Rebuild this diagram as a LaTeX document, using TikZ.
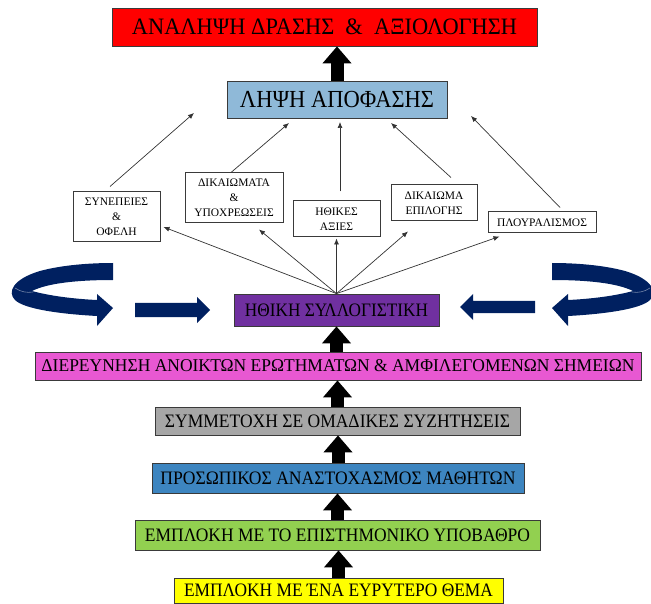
\documentclass[tikz,border=0pt]{standalone}
\usepackage{fontspec}
\usepackage{graphicx}
\setmainfont{Liberation Serif}
\usetikzlibrary{arrows.meta,calc}

% squeeze a line of text horizontally to a given width
\newcommand\fitw[2]{\resizebox{#1}{\height}{#2}}

\definecolor{actred}{HTML}{FF0000}
\definecolor{decblue}{HTML}{8FB9D8}
\definecolor{ethpurple}{HTML}{7030A0}
\definecolor{qpink}{HTML}{E858D2}
\definecolor{discgrey}{HTML}{A6A6A6}
\definecolor{reflblue}{HTML}{3D85C0}
\definecolor{scigreen}{HTML}{92D050}
\definecolor{themeyellow}{HTML}{FFFF00}
\definecolor{navy}{HTML}{002060}
\definecolor{edgegrey}{HTML}{3A3A3A}

\tikzset{
  box/.style={draw=edgegrey, line width=0.8pt, inner sep=0pt, text=black},
  smallbox/.style={draw=edgegrey, line width=1pt, fill=white, inner sep=0pt,
    align=center, font=\fontsize{11.5}{15}\selectfont},
  bigarrow/.style={line width=13pt, black, -{Triangle[length=17pt,width=28pt]}},
  thinarrow/.style={draw=black!80, line width=0.7pt, -{Latex[length=6pt,width=5pt]}},
  bandfill/.style={fill=navy},
}

% looping ribbon that turns back into an arrow
\newcommand\loopband{%
  \fill[bandfill] (113,263) -- (113,280)
    .. controls (78,280) and (48,283) .. (32,291)
    .. controls (50,296) and (75,299) .. (97,300)
    -- (97,294) -- (113,308) -- (97,326) -- (97,316)
    .. controls (60,314) and (24,309) .. (15,300)
    .. controls (7,292) and (13,279) .. (40,271)
    .. controls (62,265) and (90,263) .. (113,263) -- cycle;
  \draw[navy!55!white, line width=0.6pt] (15,288) .. controls (21,292) and (27,293) .. (33,292);
}

\begin{document}
\begin{tikzpicture}[x=1pt, y=-1pt]
\useasboundingbox (0,0) rectangle (651,604);

% ---- top of the scheme
\node[box, fill=actred, minimum width=425pt, minimum height=38pt] (act) at (324.5,27)
  {\fontsize{23.5}{26}\selectfont\fitw{385pt}{ΑΝΑΛΗΨΗ ΔΡΑΣΗΣ\ \ \&\ \ ΑΞΙΟΛΟΓΗΣΗ}};
\node[box, fill=decblue, minimum width=220pt, minimum height=37pt] (dec) at (337,99.5)
  {\fontsize{24.5}{26}\selectfont\fitw{194pt}{ΛΗΨΗ ΑΠΟΦΑΣΗΣ}};

% ---- criteria
\node[smallbox, minimum width=87pt, minimum height=50pt] (syn) at (116.5,217) {ΣΥΝΕΠΕΙΕΣ\\\&\\ΟΦΕΛΗ};
\node[smallbox, minimum width=98pt, minimum height=50pt] (dik) at (234,198) {ΔΙΚΑΙΩΜΑΤΑ\\\&\\ΥΠΟΧΡΕΩΣΕΙΣ};
\node[smallbox, minimum width=87pt, minimum height=36pt] (ith) at (336.5,219) {ΗΘΙΚΕΣ\\ΑΞΙΕΣ};
\node[smallbox, minimum width=86pt, minimum height=36pt] (epi) at (434,203) {ΔΙΚΑΙΩΜΑ\\ΕΠΙΛΟΓΗΣ};
\node[smallbox, minimum width=108pt, minimum height=21pt] (plo) at (542,222.5) {ΠΛΟΥΡΑΛΙΣΜΟΣ};

% ---- the stages
\node[box, fill=ethpurple, minimum width=205pt, minimum height=32pt] (hub) at (336.5,310)
  {\fontsize{19}{22}\selectfont\fitw{183pt}{ΗΘΙΚΗ ΣΥΛΛΟΓΙΣΤΙΚΗ}};
\node[box, fill=qpink, minimum width=606pt, minimum height=28pt] (pink) at (338,366)
  {\fontsize{18}{20}\selectfont\fitw{593pt}{ΔΙΕΡΕΥΝΗΣΗ ΑΝΟΙΚΤΩΝ\ ΕΡΩΤΗΜΑΤΩΝ \& ΑΜΦΙΛΕΓΟΜΕΝΩΝ ΣΗΜΕΙΩΝ}};
\node[box, fill=discgrey, minimum width=365pt, minimum height=28pt] (grey) at (337.5,421)
  {\fontsize{19}{22}\selectfont\fitw{345pt}{ΣΥΜΜΕΤΟΧΗ ΣΕ ΟΜΑΔΙΚΕΣ ΣΥΖΗΤΗΣΕΙΣ}};
\node[box, fill=reflblue, minimum width=372pt, minimum height=30pt] (refl) at (338,478)
  {\fontsize{19}{22}\selectfont\fitw{355pt}{ΠΡΟΣΩΠΙΚΟΣ ΑΝΑΣΤΟΧΑΣΜΟΣ ΜΑΘΗΤΩΝ}};
\node[box, fill=scigreen, minimum width=405pt, minimum height=30pt] (sci) at (337.5,535)
  {\fontsize{19}{22}\selectfont\fitw{385pt}{ΕΜΠΛΟΚΗ ΜΕ ΤΟ ΕΠΙΣΤΗΜΟΝΙΚΟ ΥΠΟΒΑΘΡΟ}};
\node[box, fill=themeyellow, minimum width=329pt, minimum height=25pt] (theme) at (338.5,590.5)
  {\fontsize{19}{22}\selectfont\fitw{309pt}{ΕΜΠΛΟΚΗ ΜΕ ΈΝΑ ΕΥΡΥΤΕΡΟ ΘΕΜΑ}};

% ---- thick arrows between stages
\draw[bigarrow] (dec.north) -- (dec.north |- act.south);
\draw[bigarrow] (pink.north -| hub.south) -- (hub.south);
\draw[bigarrow] (grey.north) -- (grey.north |- pink.south);
\draw[bigarrow] (refl.north) -- (refl.north |- grey.south);
\draw[bigarrow] (sci.north) -- (sci.north |- refl.south);
\draw[bigarrow] (theme.north) -- (theme.north |- sci.south);

% ---- from the reasoning to the criteria
\draw[thinarrow] (hub.north) -- ($(syn.east)+(3,10)$);
\draw[thinarrow] (hub.north) -- ($(dik.south)+(25,6)$);
\draw[thinarrow] (hub.north) -- ($(ith.south)+(0,1)$);
\draw[thinarrow] (hub.north) -- ($(epi.south)+(-26,10)$);
\draw[thinarrow] (hub.north) -- ($(plo.south west)+(12,3)$);

% ---- from the criteria to the decision
\coordinate (d1) at (194,113);
\coordinate (d2) at (289,123);
\coordinate (d3) at (340,122);
\coordinate (d4) at (391,123);
\coordinate (d5) at (471,116);
\draw[thinarrow] ($(syn.north)+(-6.5,-5)$) -- (d1);
\draw[thinarrow] ($(dik.north)+(-3,0)$) -- (d2);
\draw[thinarrow] ($(ith.north)+(3.5,-9)$) -- (d3);
\draw[thinarrow] ($(epi.north)+(17,-7)$) -- (d4);
\draw[thinarrow] ($(plo.north)+(18,-4)$) -- (d5);

% ---- looping ribbons and block arrows feeding the reasoning
\loopband
\begin{scope}[xshift=665pt, xscale=-1]
  \loopband
\end{scope}
\fill[bandfill] (135,303) -- (197,303) -- (197,297) -- (210,310) -- (197,323) -- (197,317) -- (135,317) -- cycle;
\fill[bandfill] (535,301) -- (473,301) -- (473,294) -- (460,307) -- (473,320) -- (473,313) -- (535,313) -- cycle;
\end{tikzpicture}
\end{document}
